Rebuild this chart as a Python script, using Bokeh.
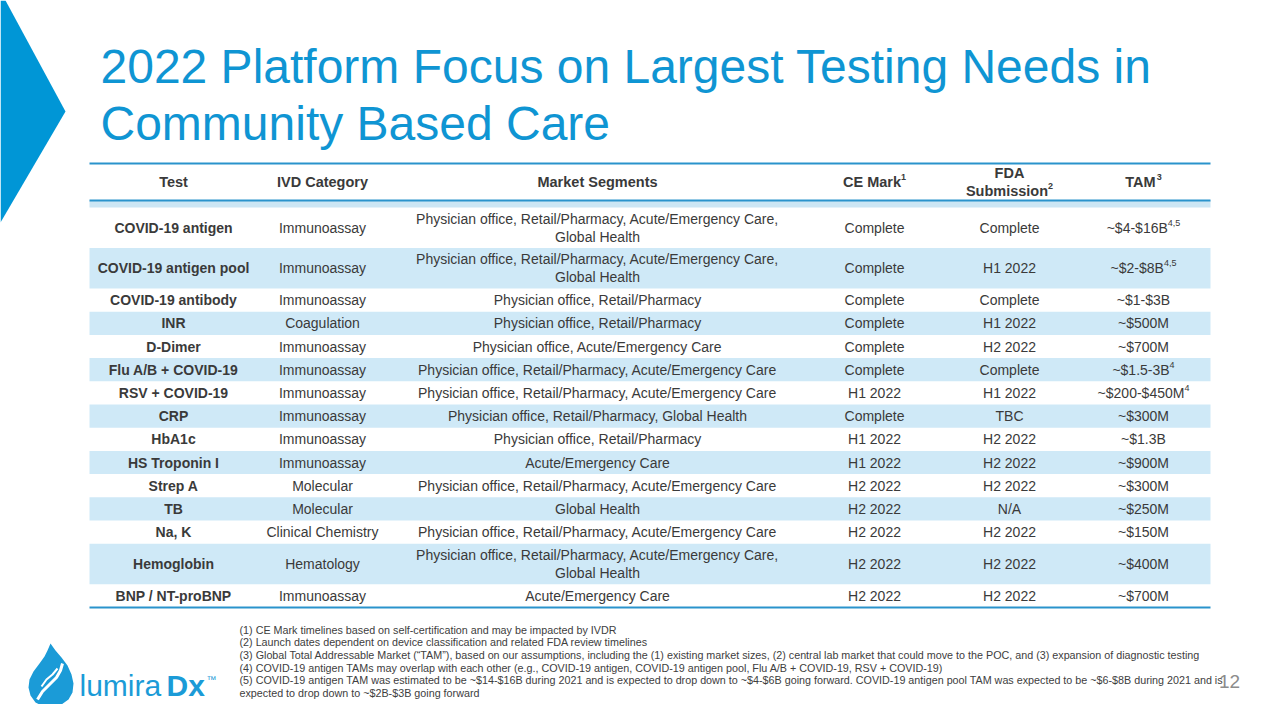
from bokeh.plotting import figure
from bokeh.models import Range1d, ColumnDataSource
from bokeh.core.properties import value
from bokeh.embed import file_html
from bokeh.resources import INLINE

# ---------------- data ----------------
title_lines = ["2022 Platform Focus on Largest Testing Needs in", "Community Based Care"]

headers = ["Test", "IVD Category", "Market Segments", "CE Mark", "FDA\nSubmission", "TAM"]
header_notes = ["", "", "", "1", "2", "3"]

tests = ["COVID-19 antigen", "COVID-19 antigen pool", "COVID-19 antibody", "INR", "D-Dimer",
         "Flu A/B + COVID-19", "RSV + COVID-19", "CRP", "HbA1c", "HS Troponin I", "Strep A",
         "TB", "Na, K", "Hemoglobin", "BNP / NT-proBNP"]
categories = ["Immunoassay", "Immunoassay", "Immunoassay", "Coagulation", "Immunoassay",
              "Immunoassay", "Immunoassay", "Immunoassay", "Immunoassay", "Immunoassay",
              "Molecular", "Molecular", "Clinical Chemistry", "Hematology", "Immunoassay"]
segments = ["Physician office, Retail/Pharmacy, Acute/Emergency Care,\nGlobal Health",
            "Physician office, Retail/Pharmacy, Acute/Emergency Care,\nGlobal Health",
            "Physician office, Retail/Pharmacy",
            "Physician office, Retail/Pharmacy",
            "Physician office, Acute/Emergency Care",
            "Physician office, Retail/Pharmacy, Acute/Emergency Care",
            "Physician office, Retail/Pharmacy, Acute/Emergency Care",
            "Physician office, Retail/Pharmacy, Global Health",
            "Physician office, Retail/Pharmacy",
            "Acute/Emergency Care",
            "Physician office, Retail/Pharmacy, Acute/Emergency Care",
            "Global Health",
            "Physician office, Retail/Pharmacy, Acute/Emergency Care",
            "Physician office, Retail/Pharmacy, Acute/Emergency Care,\nGlobal Health",
            "Acute/Emergency Care"]
ce_mark = ["Complete", "Complete", "Complete", "Complete", "Complete", "Complete", "H1 2022",
           "Complete", "H1 2022", "H1 2022", "H2 2022", "H2 2022", "H2 2022", "H2 2022", "H2 2022"]
fda_submission = ["Complete", "H1 2022", "Complete", "H1 2022", "H2 2022", "Complete", "H1 2022",
                  "TBC", "H2 2022", "H2 2022", "H2 2022", "N/A", "H2 2022", "H2 2022", "H2 2022"]
tam = ["~$4-$16B", "~$2-$8B", "~$1-$3B", "~$500M", "~$700M", "~$1.5-3B", "~$200-$450M",
       "~$300M", "~$1.3B", "~$900M", "~$300M", "~$250M", "~$150M", "~$400M", "~$700M"]
tam_notes = ["4,5", "4,5", "", "", "", "4", "4", "", "", "", "", "", "", "", ""]

footnotes = [
    "(1) CE Mark timelines based on self-certification and may be impacted by IVDR",
    "(2) Launch dates dependent on device classification and related FDA review timelines",
    "(3) Global Total Addressable Market (\u201cTAM\u201d), based on our assumptions, including the (1) existing market sizes, (2) central lab market that could move to the POC, and (3) expansion of diagnostic testing",
    "(4) COVID-19 antigen TAMs may overlap with each other (e.g., COVID-19 antigen, COVID-19 antigen pool, Flu A/B + COVID-19, RSV + COVID-19)",
    "(5) COVID-19 antigen TAM was estimated to be ~$14-$16B during 2021 and is expected to drop down to ~$4-$6B going forward. COVID-19 antigen pool TAM was expected to be ~$6-$8B during 2021 and is",
    "expected to drop down to ~$2B-$3B going forward",
]
page_number = "12"

# ---------------- styles ----------------
FONT = value("Liberation Sans")
BLUE = "#0F95D3"
ARROW = "#0096D6"
LINE = "#2A93CC"
BAND = "#CFE9F7"
TXT = "#3A3A3A"

REG = {' ': 278, '~': 584, '$': 556, '-': 333, '.': 278, ',': 278, 'B': 667, 'M': 833}
for d in "0123456789":
    REG[d] = 556
BOLD = {' ': 278, 'C': 722, 'E': 667, 'M': 833, 'a': 556, 'r': 389, 'k': 556, 'S': 667,
        'u': 611, 'b': 611, 'm': 889, 'i': 278, 's': 556, 'o': 611, 'n': 611, 'T': 611,
        'A': 722, 'F': 611, 'D': 722}


def tw(s, size, table):
    return sum(table.get(c, 556) for c in s) * size / 1000.0


p = figure(width=1264, height=704, x_range=Range1d(0, 1264), y_range=Range1d(704, 0),
           output_backend="svg", toolbar_location=None, x_axis_type=None, y_axis_type=None,
           min_border=0, min_border_left=0, min_border_right=0, min_border_top=0,
           min_border_bottom=0)
p.grid.visible = False
p.outline_line_color = None
p.background_fill_color = "white"
p.border_fill_color = "white"


def texts(xs, ys, ts, size, color=TXT, bold=False, align="center", baseline="middle"):
    src = ColumnDataSource(dict(x=xs, y=ys, t=ts))
    p.text(x="x", y="y", text="t", source=src, text_font=FONT,
           text_font_size=value(f"{size}px"), text_color=color,
           text_font_style="bold" if bold else "normal",
           text_align=align, text_baseline=baseline)


# ---------------- decoration: arrow ----------------
p.patch([0, 5, 65, 0], [0, 0, 111, 222], fill_color=ARROW, line_color=None)

# ---------------- title ----------------
texts([100, 100], [66, 123], title_lines, 48, color=BLUE, align="left")

# ---------------- table ----------------
tbl_l, tbl_r = 89, 1210
col_x = [173, 322, 597, 874, 1009, 1143]
head_top, head_bot = 163, 200
body_top = 207
h1, h2 = 23.2, 40.5

n_lines = [len(s.split("\n")) for s in segments]
heights = [h2 if n > 1 else h1 for n in n_lines]
tops, y = [], body_top
for h in heights:
    tops.append(y)
    y += h
table_bottom = y
centers = [t + h / 2 for t, h in zip(tops, heights)]

# bands
band_idx = [i for i in range(len(tests)) if i % 2 == 1]
p.quad(left=tbl_l, right=tbl_r, top=[tops[i] for i in band_idx],
       bottom=[tops[i] + heights[i] for i in band_idx], fill_color=BAND, line_color=None)
p.quad(left=tbl_l, right=tbl_r, top=head_bot, bottom=body_top, fill_color="#CCE6F4",
       line_color=None)
# rules
p.segment(x0=tbl_l, x1=tbl_r, y0=[head_top, head_bot, table_bottom],
          y1=[head_top, head_bot, table_bottom], line_color=LINE, line_width=2)

# header
HS = 14.5
head_c = (head_top + head_bot) / 2
for hx, h, note in zip(col_x, headers, header_notes):
    lines = h.split("\n")
    if len(lines) == 1:
        ly = [head_c]
    else:
        ly = [head_c - 9, head_c + 9]
    for li, (ln, yy) in enumerate(zip(lines, ly)):
        last = li == len(lines) - 1
        if note and last:
            wm = tw(ln, HS, BOLD)
            ws = tw(note, 9, BOLD)
            start = hx - (wm + ws) / 2
            texts([start], [yy], [ln], HS, bold=True, align="left")
            texts([start + wm], [yy - 5], [note], 9, bold=True, align="left")
        else:
            texts([hx], [yy], [ln], HS, bold=True)

# body
texts([col_x[0]] * len(tests), centers, tests, 14, bold=True)
texts([col_x[1]] * len(tests), centers, categories, 14)
seg_x, seg_y, seg_t = [], [], []
for c, s in zip(centers, segments):
    lines = s.split("\n")
    if len(lines) == 1:
        seg_x.append(col_x[2]); seg_y.append(c); seg_t.append(lines[0])
    else:
        seg_x += [col_x[2], col_x[2]]; seg_y += [c - 9, c + 9]; seg_t += lines
texts(seg_x, seg_y, seg_t, 14)
texts([col_x[3]] * len(tests), centers, ce_mark, 14)
texts([col_x[4]] * len(tests), centers, fda_submission, 14)

plain_x, plain_y, plain_t = [], [], []
for c, t, n in zip(centers, tam, tam_notes):
    if n:
        wm = tw(t, 14, REG)
        ws = tw(n, 9, REG)
        start = col_x[5] - (wm + ws) / 2
        texts([start], [c], [t], 14, align="left")
        texts([start + wm], [c - 5], [n], 9, align="left")
    else:
        plain_x.append(col_x[5]); plain_y.append(c); plain_t.append(t)
texts(plain_x, plain_y, plain_t, 14)

# ---------------- footnotes ----------------
fn_y = [629 + 12.7 * i for i in range(len(footnotes))]
texts([239] * len(footnotes), fn_y, footnotes, 10.75, color="#404040", align="left")
texts([1229], [681], [page_number], 19, color="#8C8C8C")

# ---------------- logo ----------------
LOGO = "#1B9BD7"
fx = [50, 55, 61, 67, 71, 73, 72, 68, 61, 52, 43, 35, 30, 28, 29, 33, 39, 44, 47]
fy = [643, 650, 657, 665, 674, 683, 692, 699, 704, 706, 706, 702, 695, 687, 679, 671, 663, 656, 650]
p.patch(fx, fy, fill_color=LOGO, line_color=None)
p.line([37, 42, 49, 56, 60, 62], [699, 691, 684, 677, 670, 663], line_color="white", line_width=3)
p.line([41, 46, 52, 57], [686, 679, 674, 668], line_color="white", line_width=2)
texts([79], [685], ["lumira"], 30, color=LOGO, align="left")
texts([166], [685], ["Dx"], 30, color=LOGO, bold=True, align="left")
texts([206], [679], ["\u2122"], 10, color=LOGO, align="left")

open("out.html", "w").write(file_html(p, INLINE))
